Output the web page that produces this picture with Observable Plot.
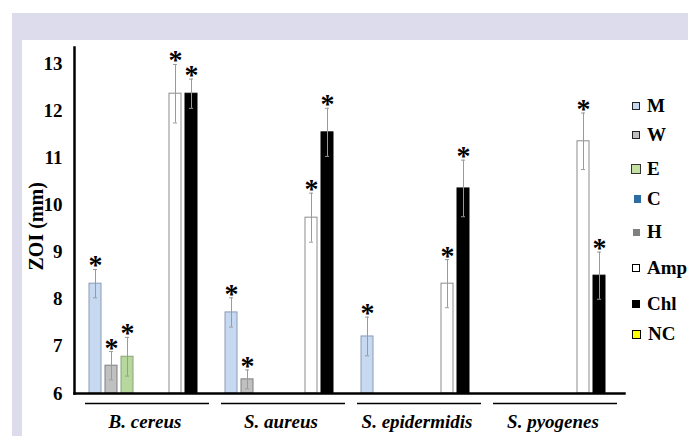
<!DOCTYPE html>
<html>
<head>
<meta charset="utf-8">
<script src="https://cdn.jsdelivr.net/npm/d3@7"></script>
<script src="https://cdn.jsdelivr.net/npm/@observablehq/plot@0.6"></script>
<style>
  html, body { margin: 0; padding: 0; background: #fff; }
  #wrap { position: relative; width: 688px; height: 436px; overflow: hidden; font-family: "Liberation Serif", Tinos, "Times New Roman", "DejaVu Serif", serif; }
  .band { position: absolute; background: #dcdcec; }
  #chart { position: absolute; left: 0; top: 0; }
  #legend { position: absolute; left: 628px; top: 0; width: 60px; height: 436px; }
  .item { position: absolute; left: 0; height: 22px; display: flex; align-items: center; font-weight: bold; font-size: 19px; color: #000; }
  .sw { display: inline-block; box-sizing: border-box; margin-right: 7px; }
</style>
</head>
<body>
<div id="wrap">
  <div class="band" style="left:12px;top:13px;width:676px;height:27px"></div>
  <div class="band" style="left:12px;top:13px;width:10px;height:423px"></div>
  <div id="chart"></div>
  <div id="legend"></div>
</div>
<script>
// ---- data ----
const groups = ["B. cereus", "S. aureus", "S. epidermidis", "S. pyogenes"];
const series = ["M", "W", "E", "C", "H", "Amp", "Chl", "NC"];
const valM   = [8.33, 7.72, 7.21, null];
const valW   = [6.59, 6.30, null, null];
const valE   = [6.78, null, null, null];
const valAmp = [12.36, 9.73, 8.33, 11.35];
const valChl = [12.36, 11.54, 10.35, 8.50];
const errM   = [0.30, 0.31, 0.41, null];
const errW   = [0.30, 0.20, null, null];
const errE   = [0.41, null, null, null];
const errAmp = [0.62, 0.52, 0.51, 0.60];
const errChl = [0.31, 0.51, 0.60, 0.50];
const yTicks = [6, 7, 8, 9, 10, 11, 12, 13];
const yLabel = "ZOI (mm)";

const fills   = {M: "#c6d9f0", W: "#c0c0c0", E: "#b7d89c", C: "#2e6ca4", H: "#808080", Amp: "#ffffff", Chl: "#000000", NC: "#ffff00"};
const strokes = {M: "#8a9db5", W: "#7f7f7f", E: "#8aa37a", C: "#2e6ca4", H: "#808080", Amp: "#8c8c8c", Chl: "#000000", NC: "#000000"};

// build table
const valueSets = {M: [valM, errM], W: [valW, errW], E: [valE, errE], Amp: [valAmp, errAmp], Chl: [valChl, errChl]};
const rows = [];
for (const s of Object.keys(valueSets)) {
  const [vals, errs] = valueSets[s];
  groups.forEach((g, i) => {
    if (vals[i] != null) rows.push({group: g, series: s, value: vals[i], err: errs[i]});
  });
}

const serif = "'Liberation Serif', Tinos, 'Times New Roman', 'DejaVu Serif', serif";

const chart = Plot.plot({
  width: 688,
  height: 436,
  marginLeft: 85,
  marginRight: 62,
  marginTop: 47,
  marginBottom: 43,
  style: {background: "transparent", fontFamily: serif, overflow: "visible"},
  fx: {domain: groups, paddingInner: 0.05, paddingOuter: 0},
  x: {domain: series, paddingInner: 0.22, paddingOuter: 0.134, axis: null},
  y: {domain: [6, 13.34], axis: null},
  marks: [
    Plot.barY(rows, {fx: "group", x: "series", y1: 6, y2: "value",
      fill: d => fills[d.series], stroke: d => strokes[d.series], strokeWidth: 1}),
    Plot.ruleX(rows, {fx: "group", x: "series", y1: d => d.value - d.err, y2: d => d.value + d.err,
      stroke: "#9a9a9a", strokeWidth: 1}),
    Plot.tickY(rows, {fx: "group", x: "series", y: d => d.value + d.err, stroke: "#9a9a9a", strokeWidth: 1, insetLeft: 4, insetRight: 4}),
    Plot.tickY(rows, {fx: "group", x: "series", y: d => d.value - d.err, stroke: "#9a9a9a", strokeWidth: 1, insetLeft: 4, insetRight: 4}),
    Plot.text(rows, {fx: "group", x: "series", y: d => d.value + d.err, text: () => "*",
      fontSize: 28, fontWeight: "bold", fontFamily: serif, fill: "#000", dy: -4}),
    Plot.ruleY([6], {dy: 10, stroke: "#000", strokeWidth: 1.5, insetLeft: -2, insetRight: 7}),
    Plot.axisY({ticks: yTicks, tickSize: 0, tickPadding: 25, fontSize: 19, fontWeight: "bold", fontFamily: serif, fill: "#000", label: null}),
    Plot.axisFx({anchor: "bottom", tickSize: 0, tickPadding: 21, fontSize: 19, fontWeight: "bold", fontStyle: "italic", fontFamily: serif, fill: "#000", label: null, dx: -7}),
    Plot.frame({facet: "super", anchor: "left", stroke: "#000", strokeWidth: 2.5, dx: -13}),
    Plot.frame({facet: "super", anchor: "bottom", stroke: "#000", strokeWidth: 2.5, insetLeft: -13}),
    Plot.text([yLabel], {facet: "super", frameAnchor: "left", text: d => d, rotate: -90,
      dx: -51, dy: 50, fontSize: 20, fontWeight: "bold", fontFamily: serif, fill: "#000"})
  ]
});
document.getElementById("chart").appendChild(chart);

// ---- legend ----
const legendY = {M: 106, W: 135, E: 169, C: 199, H: 232, Amp: 268, Chl: 304, NC: 334};
const legendSw = {
  M:   "width:8px;height:8px;background:#c6d9f0;border:1px solid #222",
  W:   "width:8px;height:8px;background:#c0c0c0;border:1px solid #222",
  E:   "width:10px;height:10px;background:#c4dfa2;border:1.5px solid #333;margin-left:-1px;margin-right:6px",
  C:   "width:7px;height:8px;background:#2e6ca4;margin-left:2px;margin-right:6px",
  H:   "width:7px;height:7px;background:#808080;margin-left:1px;margin-right:7px",
  Amp: "width:8px;height:8px;background:#fff;border:1px solid #000",
  Chl: "width:8px;height:8px;background:#000",
  NC:  "width:9px;height:9px;background:#ffff00;border:1px solid #000"
};
const leg = document.getElementById("legend");
for (const s of series) {
  const it = document.createElement("div");
  it.className = "item";
  it.style.top = (legendY[s] - 11) + "px";
  it.style.left = "4px";
  it.innerHTML = `<span class="sw" style="${legendSw[s]}"></span><span>${s}</span>`;
  leg.appendChild(it);
}
</script>
</body>
</html>
